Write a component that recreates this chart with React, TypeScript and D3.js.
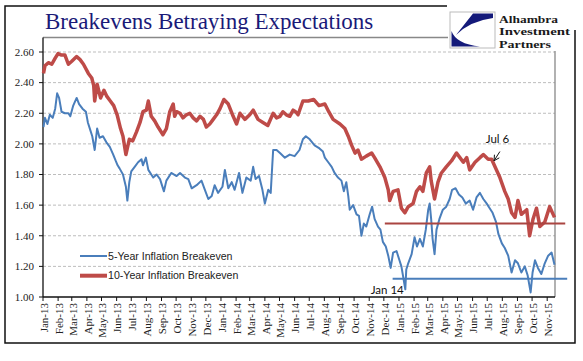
import * as d3 from 'd3';

// 10-year inflation breakeven
const tenYear: [string, number][] = [
  ['2013-01-02', 2.46], ['2013-01-05', 2.51], ['2013-01-12', 2.53], ['2013-01-19', 2.52], ['2013-01-26', 2.56],
  ['2013-02-01', 2.59], ['2013-02-08', 2.58], ['2013-02-15', 2.58], ['2013-02-22', 2.52], ['2013-03-01', 2.54],
  ['2013-03-11', 2.57], ['2013-03-18', 2.55], ['2013-03-25', 2.52], ['2013-04-04', 2.46], ['2013-04-11', 2.43],
  ['2013-04-15', 2.38], ['2013-04-17', 2.28], ['2013-04-22', 2.39], ['2013-04-29', 2.30], ['2013-05-06', 2.35],
  ['2013-05-12', 2.31], ['2013-05-19', 2.28], ['2013-05-26', 2.25], ['2013-06-02', 2.19], ['2013-06-09', 2.10],
  ['2013-06-14', 2.05], ['2013-06-20', 1.93], ['2013-06-27', 2.03], ['2013-07-04', 2.02], ['2013-07-12', 2.08],
  ['2013-07-19', 2.14], ['2013-07-25', 2.21], ['2013-08-01', 2.22], ['2013-08-05', 2.28], ['2013-08-11', 2.18],
  ['2013-08-18', 2.15], ['2013-08-25', 2.11], ['2013-09-04', 2.06], ['2013-09-11', 2.10], ['2013-09-18', 2.21],
  ['2013-09-25', 2.26], ['2013-09-28', 2.18], ['2013-10-02', 2.21], ['2013-10-09', 2.20], ['2013-10-15', 2.17],
  ['2013-10-22', 2.19], ['2013-10-29', 2.20], ['2013-11-05', 2.17], ['2013-11-12', 2.15], ['2013-11-19', 2.18],
  ['2013-11-26', 2.16], ['2013-12-02', 2.11], ['2013-12-09', 2.13], ['2013-12-16', 2.16], ['2013-12-23', 2.19],
  ['2013-12-30', 2.23], ['2014-01-07', 2.29], ['2014-01-16', 2.26], ['2014-01-26', 2.18], ['2014-02-02', 2.13],
  ['2014-02-09', 2.20], ['2014-02-19', 2.16], ['2014-03-01', 2.19], ['2014-03-08', 2.22], ['2014-03-18', 2.16],
  ['2014-03-28', 2.14], ['2014-04-07', 2.12], ['2014-04-18', 2.20], ['2014-04-25', 2.17], ['2014-05-02', 2.18],
  ['2014-05-08', 2.21], ['2014-05-15', 2.19], ['2014-05-22', 2.18], ['2014-05-29', 2.22], ['2014-06-03', 2.21],
  ['2014-06-08', 2.19], ['2014-06-18', 2.28], ['2014-06-29', 2.28], ['2014-07-10', 2.29], ['2014-07-21', 2.25],
  ['2014-08-02', 2.26], ['2014-08-10', 2.21], ['2014-08-19', 2.16], ['2014-09-02', 2.13], ['2014-09-12', 2.10],
  ['2014-09-19', 2.05], ['2014-09-26', 1.99], ['2014-10-03', 1.94], ['2014-10-09', 1.96], ['2014-10-16', 1.90],
  ['2014-10-26', 1.92], ['2014-11-06', 1.94], ['2014-11-12', 1.91], ['2014-11-23', 1.85], ['2014-12-03', 1.78],
  ['2014-12-10', 1.70], ['2014-12-13', 1.63], ['2014-12-20', 1.69], ['2014-12-30', 1.70], ['2015-01-06', 1.58],
  ['2015-01-13', 1.55], ['2015-01-20', 1.59], ['2015-01-30', 1.61], ['2015-02-06', 1.69], ['2015-02-13', 1.72],
  ['2015-02-19', 1.69], ['2015-02-26', 1.81], ['2015-03-05', 1.85], ['2015-03-08', 1.76], ['2015-03-15', 1.64],
  ['2015-03-22', 1.75], ['2015-03-29', 1.81], ['2015-04-08', 1.85], ['2015-04-19', 1.89], ['2015-04-29', 1.94],
  ['2015-05-06', 1.91], ['2015-05-13', 1.88], ['2015-05-20', 1.91], ['2015-05-26', 1.83], ['2015-06-06', 1.88],
  ['2015-06-16', 1.91], ['2015-06-23', 1.93], ['2015-07-03', 1.90], ['2015-07-10', 1.90], ['2015-07-20', 1.83],
  ['2015-07-27', 1.78], ['2015-08-06', 1.69], ['2015-08-13', 1.64], ['2015-08-20', 1.55], ['2015-08-27', 1.52],
  ['2015-09-02', 1.63], ['2015-09-09', 1.54], ['2015-09-20', 1.57], ['2015-09-26', 1.40], ['2015-10-03', 1.51],
  ['2015-10-10', 1.58], ['2015-10-17', 1.46], ['2015-10-27', 1.49], ['2015-11-06', 1.59], ['2015-11-16', 1.52],
];

// 5-year inflation breakeven
const fiveYear: [string, number][] = [
  ['2013-01-02', 2.11], ['2013-01-05', 2.17], ['2013-01-10', 2.13], ['2013-01-15', 2.19], ['2013-01-21', 2.17],
  ['2013-01-26', 2.23], ['2013-01-30', 2.33], ['2013-02-03', 2.30], ['2013-02-08', 2.21], ['2013-02-15', 2.20],
  ['2013-02-22', 2.20], ['2013-02-26', 2.18], ['2013-03-04', 2.25], ['2013-03-11', 2.30], ['2013-03-16', 2.26],
  ['2013-03-23', 2.23], ['2013-03-30', 2.21], ['2013-04-03', 2.14], ['2013-04-08', 2.09], ['2013-04-12', 2.05],
  ['2013-04-17', 1.96], ['2013-04-22', 2.10], ['2013-04-27', 2.04], ['2013-05-04', 2.05], ['2013-05-11', 2.01],
  ['2013-05-18', 1.98], ['2013-05-25', 1.93], ['2013-05-30', 1.89], ['2013-06-03', 1.86], ['2013-06-07', 1.84],
  ['2013-06-14', 1.80], ['2013-06-20', 1.72], ['2013-06-23', 1.63], ['2013-06-27', 1.75], ['2013-07-01', 1.82],
  ['2013-07-08', 1.85], ['2013-07-15', 1.88], ['2013-07-22', 1.90], ['2013-07-25', 1.86], ['2013-07-31', 1.91],
  ['2013-08-05', 1.83], ['2013-08-15', 1.78], ['2013-08-22', 1.80], ['2013-08-29', 1.77], ['2013-09-06', 1.69],
  ['2013-09-11', 1.76], ['2013-09-21', 1.81], ['2013-10-02', 1.79], ['2013-10-09', 1.81], ['2013-10-19', 1.78],
  ['2013-10-26', 1.77], ['2013-11-02', 1.71], ['2013-11-12', 1.73], ['2013-11-22', 1.76], ['2013-11-29', 1.70],
  ['2013-12-06', 1.64], ['2013-12-13', 1.66], ['2013-12-19', 1.73], ['2013-12-26', 1.68], ['2014-01-04', 1.72],
  ['2014-01-09', 1.83], ['2014-01-16', 1.71], ['2014-01-23', 1.75], ['2014-01-29', 1.70], ['2014-02-07', 1.81],
  ['2014-02-14', 1.68], ['2014-02-22', 1.78], ['2014-03-03', 1.76], ['2014-03-08', 1.85], ['2014-03-13', 1.77],
  ['2014-03-20', 1.79], ['2014-03-27', 1.70], ['2014-04-01', 1.61], ['2014-04-08', 1.70], ['2014-04-13', 1.68],
  ['2014-04-16', 1.85], ['2014-04-18', 1.96], ['2014-04-25', 1.96], ['2014-05-02', 1.94], ['2014-05-12', 1.91],
  ['2014-05-22', 1.93], ['2014-06-01', 1.92], ['2014-06-11', 1.96], ['2014-06-18', 2.03], ['2014-06-24', 2.05],
  ['2014-07-02', 2.03], ['2014-07-12', 1.99], ['2014-07-22', 1.97], ['2014-07-29', 1.95], ['2014-08-02', 1.91],
  ['2014-08-09', 1.88], ['2014-08-16', 1.85], ['2014-08-22', 1.81], ['2014-08-29', 1.78], ['2014-09-05', 1.76],
  ['2014-09-10', 1.69], ['2014-09-15', 1.75], ['2014-09-19', 1.66], ['2014-09-22', 1.57], ['2014-09-29', 1.60],
  ['2014-10-06', 1.54], ['2014-10-11', 1.53], ['2014-10-16', 1.40], ['2014-10-21', 1.48], ['2014-10-26', 1.46],
  ['2014-11-02', 1.54], ['2014-11-07', 1.59], ['2014-11-12', 1.51], ['2014-11-19', 1.46], ['2014-11-24', 1.44],
  ['2014-11-29', 1.36], ['2014-12-05', 1.33], ['2014-12-10', 1.27], ['2014-12-15', 1.19], ['2014-12-20', 1.29],
  ['2014-12-27', 1.30], ['2015-01-02', 1.24], ['2015-01-06', 1.20], ['2015-01-14', 1.05], ['2015-01-16', 1.18],
  ['2015-01-20', 1.22], ['2015-01-27', 1.28], ['2015-02-02', 1.39], ['2015-02-07', 1.33], ['2015-02-13', 1.38],
  ['2015-02-19', 1.33], ['2015-02-25', 1.44], ['2015-03-02', 1.57], ['2015-03-05', 1.61], ['2015-03-08', 1.51],
  ['2015-03-11', 1.38], ['2015-03-15', 1.28], ['2015-03-19', 1.44], ['2015-03-25', 1.51], ['2015-04-01', 1.57],
  ['2015-04-08', 1.59], ['2015-04-15', 1.64], ['2015-04-20', 1.70], ['2015-04-27', 1.71], ['2015-05-04', 1.67],
  ['2015-05-11', 1.65], ['2015-05-18', 1.61], ['2015-05-26', 1.63], ['2015-06-02', 1.57], ['2015-06-09', 1.65],
  ['2015-06-16', 1.68], ['2015-06-23', 1.64], ['2015-06-30', 1.61], ['2015-07-06', 1.58], ['2015-07-12', 1.55],
  ['2015-07-19', 1.49], ['2015-07-24', 1.41], ['2015-07-31', 1.35], ['2015-08-06', 1.32], ['2015-08-13', 1.27],
  ['2015-08-20', 1.16], ['2015-08-27', 1.24], ['2015-09-02', 1.22], ['2015-09-09', 1.16], ['2015-09-16', 1.20],
  ['2015-09-22', 1.14], ['2015-09-28', 1.03], ['2015-10-02', 1.16], ['2015-10-07', 1.24], ['2015-10-13', 1.19],
  ['2015-10-20', 1.15], ['2015-10-27', 1.22], ['2015-11-03', 1.27], ['2015-11-10', 1.29], ['2015-11-16', 1.21],
];

const yTicks = [1.0, 1.2, 1.4, 1.6, 1.8, 2.0, 2.2, 2.4, 2.6];
const legendLabels = ['5-Year Inflation Breakeven', '10-Year Inflation Breakeven'];
// horizontal marker lines drawn on the chart
const refLines = [
  { from: '2014-12-03', to: '2015-12-08', value: 1.48, color: '#aa4541' },
  { from: '2014-12-19', to: '2015-12-12', value: 1.12, color: '#4a7ebb' },
];
const notes = [
  { label: 'Jul 6', date: '2015-07-22', value: 2.03 },
  { label: 'Jan 14', date: '2014-12-08', value: 1.045 },
];
const arrowFrom = { date: '2015-07-27', value: 1.95 };
const arrowTo = { date: '2015-07-15', value: 1.89 };
const logoLines = ['Alhambra', 'Investment', 'Partners'];
const logoWidths = [59, 71, 52];

const parse = d3.timeParse('%Y-%m-%d');
const fmt = d3.timeFormat('%b-%y');

const App = () => {
  const x = d3.scaleTime().domain([new Date(2013, 0, 1), new Date(2015, 10, 17)]).range([43, 555]);
  const y = d3.scaleLinear().domain([1, 2.6]).range([297, 52]);
  const months = d3.timeMonth.range(new Date(2013, 0, 1), new Date(2015, 10, 2));

  const line = d3
    .line<[string, number]>()
    .x((d) => x(parse(d[0]) as Date))
    .y((d) => y(d[1]));

  const ax = x(parse(arrowFrom.date) as Date), ay = y(arrowFrom.value);
  const tx = x(parse(arrowTo.date) as Date), ty = y(arrowTo.value);
  const ang = Math.atan2(ty - ay, tx - ax);
  const head = (a: number) => [tx - 6 * Math.cos(ang + a), ty - 6 * Math.sin(ang + a)];
  const h1 = head(0.5), h2 = head(-0.5);

  const serif = '"Liberation Serif", "Times New Roman", serif';

  return (
    <svg width={583} height={361} style={{ position: 'absolute', left: 0, top: 0, background: '#fff' }}>
      {/* outer frame */}
      <path d="M447,6 L5,6 L5,343 L575,343 L575,30" fill="none" stroke="#111" strokeWidth={1.5} />

      <text x={45} y={29} fontFamily={serif} fontSize={23} fill="#1a1a78">
        Breakevens Betraying Expectations
      </text>

      {/* gridlines */}
      {yTicks.slice(1).map((t) => (
        <line key={t} x1={43} x2={555} y1={y(t)} y2={y(t)} stroke="#bdbdbd" strokeDasharray="3,2" strokeWidth={1} />
      ))}

      {/* plot border */}
      <line x1={43} x2={448} y1={37.5} y2={37.5} stroke="#888" strokeWidth={1.3} />
      <line x1={555} x2={555} y1={51} y2={297} stroke="#888" strokeWidth={1.3} />

      {/* y axis */}
      <line x1={43} x2={43} y1={37.5} y2={297} stroke="#111" strokeWidth={1.3} />
      {yTicks.map((t) => (
        <g key={t}>
          <line x1={39} x2={43} y1={y(t)} y2={y(t)} stroke="#111" />
          <text x={34} y={y(t)} dy="0.35em" textAnchor="end" fontFamily={serif} fontSize={11} fill="#222">
            {t.toFixed(2)}
          </text>
        </g>
      ))}

      {/* x axis */}
      <line x1={43} x2={555} y1={297} y2={297} stroke="#111" strokeWidth={1.3} />
      {months.map((m) => (
        <g key={m.getTime()}>
          <line x1={x(m)} x2={x(m)} y1={297} y2={301} stroke="#111" />
          <text
            transform={`translate(${x(m) + 1},303) rotate(-90)`}
            dy="0.35em"
            textAnchor="end"
            fontFamily={serif}
            fontSize={11}
            fill="#222"
          >
            {fmt(m)}
          </text>
        </g>
      ))}

      {/* series */}
      <path d={line(tenYear) || ''} fill="none" stroke="#be4b48" strokeWidth={3.5} strokeLinejoin="round" />
      <path d={line(fiveYear) || ''} fill="none" stroke="#4a7ebb" strokeWidth={2} strokeLinejoin="round" />

      {/* reference lines */}
      {refLines.map((r) => (
        <line
          key={r.value}
          x1={x(parse(r.from) as Date)}
          x2={x(parse(r.to) as Date)}
          y1={y(r.value)}
          y2={y(r.value)}
          stroke={r.color}
          strokeWidth={2}
        />
      ))}

      {/* annotations */}
      {notes.map((n) => (
        <text
          key={n.label}
          x={x(parse(n.date) as Date)}
          y={y(n.value)}
          dy="0.35em"
          textAnchor="middle"
          fontFamily="Lato, sans-serif"
          fontSize={11.5}
          fill="#111"
        >
          {n.label}
        </text>
      ))}
      <path
        d={`M${ax},${ay} L${tx},${ty} M${h1[0]},${h1[1]} L${tx},${ty} L${h2[0]},${h2[1]}`}
        fill="none"
        stroke="#111"
        strokeWidth={1}
      />

      {/* legend */}
      {legendLabels.map((l, i) => (
        <g key={l} transform={`translate(80,${256 + i * 19.7})`}>
          <line x1={0} x2={27} y1={0} y2={0} stroke={i ? '#be4b48' : '#4a7ebb'} strokeWidth={i ? 4 : 2} />
          <text x={28} y={0} dy="0.35em" fontFamily='"Liberation Sans", Arial, sans-serif' fontSize={10.6} fill="#222">
            {l}
          </text>
        </g>
      ))}

      {/* logo */}
      <rect x={450} y={12} width={45} height={36} fill="#fff" stroke="#bbb" strokeWidth={1} />
      <path d="M493,13.5 L473,13.5 L456,35 Q470,21 493,18 Z" fill="#141a7a" />
      <path d="M451.5,31 Q456,44 480,46.5 L451.5,46.5 Z" fill="#141a7a" />
      {logoLines.map((t, i) => (
        <text
          key={t}
          x={499}
          y={22.5 + i * 12.8}
          fontFamily={serif}
          fontWeight="bold"
          fontSize={11}
          textLength={logoWidths[i]}
          lengthAdjust="spacingAndGlyphs"
          fill="#1a1a1a"
        >
          {t}
        </text>
      ))}
    </svg>
  );
};

export default App;
